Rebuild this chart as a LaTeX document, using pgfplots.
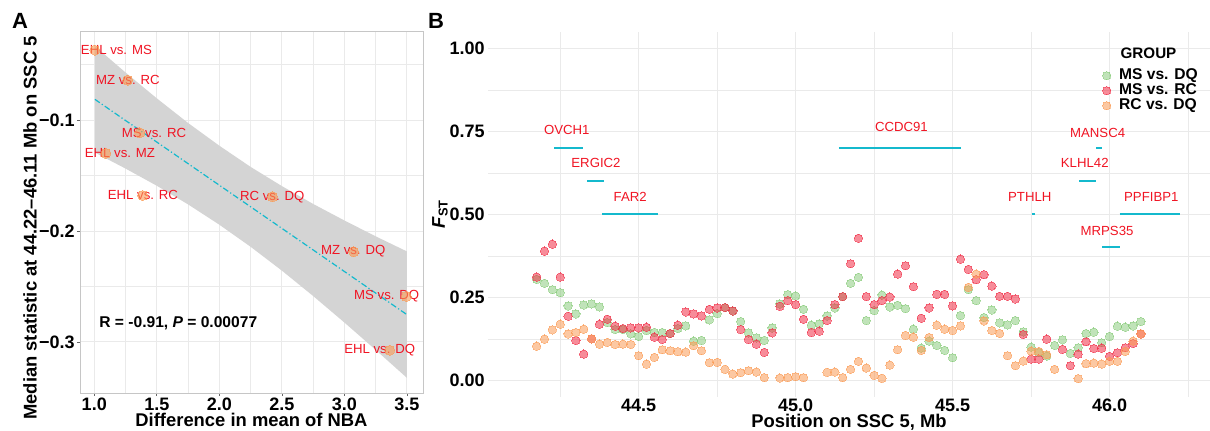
\documentclass[border=0pt]{standalone}
\usepackage{fontspec}
\setmainfont{Liberation Sans}
\usepackage{pgfplots}
\pgfplotsset{compat=1.18}
\definecolor{grn}{RGB}{130,200,115}
\definecolor{rd}{RGB}{240,45,70}
\definecolor{org}{RGB}{250,155,85}
\definecolor{cy}{RGB}{20,185,205}
\definecolor{gridc}{RGB}{234,234,234}
\definecolor{band}{RGB}{212,212,212}
\definecolor{lab}{RGB}{240,20,35}
\begin{document}
\begin{tikzpicture}[x=1pt,y=1pt]
\useasboundingbox (0,0) rectangle (605,215);
% ---------------- Panel A ----------------
\begin{axis}[
 at={(40pt,18.5pt)}, anchor=south west,
 scale only axis, width=171.5pt, height=181pt,
 xmin=0.886, xmax=3.628, ymin=-0.346, ymax=-0.0197,
 xtick={1,1.5,2,2.5,3,3.5}, xticklabels={1.0,1.5,2.0,2.5,3.0,3.5},
 minor xtick={1.25,1.75,2.25,2.75,3.25},
 ytick={-0.3,-0.2,-0.1}, yticklabels={−0.3,−0.2,−0.1},
 minor ytick={-0.25,-0.15,-0.05},
 xtick pos=lower, ytick pos=left,
 grid=both, major grid style={gridc, line width=0.5pt}, minor grid style={gridc, line width=0.3pt},
 axis line style={gray!45, line width=0.5pt},
 tick align=outside, major tick length=1.5pt, minor tick length=0pt,
 tick style={black!60, line width=0.4pt},
 tick label style={font=\fontsize{9}{10}\selectfont\bfseries},
 xticklabel style={inner sep=1pt},
 yticklabel style={inner sep=1pt},
 clip=false,
]
\addplot[fill=band, draw=none] coordinates {
 (1.005,-0.0333) (1.25,-0.0571) (1.5,-0.0804) (1.75,-0.1026) (2.0,-0.1231) (2.25,-0.1422) (2.5,-0.1595) (2.75,-0.1756) (3.0,-0.1905) (3.25,-0.2048) (3.5,-0.2184)
 (3.5,-0.3324) (3.25,-0.3072) (3.0,-0.2825) (2.75,-0.2586) (2.5,-0.2357) (2.25,-0.2142) (2.0,-0.1943) (1.75,-0.1760) (1.5,-0.1592) (1.25,-0.1437) (1.005,-0.1293)} -- cycle;
\addplot[cy, line width=0.6pt, dash pattern=on 3pt off 1.2pt on 0.6pt off 1.2pt] coordinates {(1.005,-0.0813) (3.5,-0.2754)};
\addplot[only marks, mark=*, mark size=2.5pt, mark options={fill=org, draw=org, line width=0pt}, opacity=0.6] coordinates {
 (1.005,-0.037) (1.267,-0.064) (1.365,-0.1115) (1.093,-0.130) (1.387,-0.168) (2.425,-0.169) (3.074,-0.2187) (3.495,-0.259) (3.362,-0.3075)};
\begin{scope}[every node/.style={font=\fontsize{6.6}{7}\selectfont, text=lab, inner sep=0pt}]
\node at (axis cs:1.177,-0.0368) {EHL vs. MS};
\node at (axis cs:1.269,-0.0639) {MZ vs. RC};
\node at (axis cs:1.477,-0.1115) {MS vs. RC};
\node at (axis cs:1.205,-0.1298) {EHL vs. MZ};
\node at (axis cs:1.389,-0.1677) {EHL vs. RC};
\node at (axis cs:2.423,-0.1692) {RC vs. DQ};
\node at (axis cs:3.070,-0.2180) {MZ vs. DQ};
\node at (axis cs:3.338,-0.2586) {MS vs. DQ};
\node at (axis cs:3.282,-0.3076) {EHL vs. DQ};
\end{scope}
\node[anchor=west, inner sep=0pt, font=\fontsize{7.8}{8}\selectfont\bfseries] at (axis cs:1.0375,-0.283) {R = -0.91, \textit{P} = 0.00077};
\end{axis}
% ---------------- Panel B ----------------
\begin{axis}[
 at={(244pt,16.55pt)}, anchor=south west,
 scale only axis, width=361pt, height=182.6pt,
 xmin=44.02, xmax=46.32, ymin=-0.05, ymax=1.05,
 xtick={44.5,45,45.5,46}, xticklabels={44.5,45.0,45.5,46.0},
 minor xtick={44.25,44.75,45.25,45.75,46.25},
 ytick={0,0.25,0.5,0.75,1}, yticklabels={0.00,0.25,0.50,0.75,1.00},
 minor ytick={0.125,0.375,0.625,0.875},
 grid=both, major grid style={gridc, line width=0.5pt}, minor grid style={gridc, line width=0.3pt},
 axis line style={draw=none},
 tick style={draw=none},
 tick label style={font=\fontsize{9}{10}\selectfont\bfseries},
 xticklabel style={inner sep=1pt},
 yticklabel style={inner sep=1.5pt},
 clip=false,
 legend style={at={(axis cs:45.9726,0.9413)}, anchor=north west, draw=none, fill=none,
   font=\fontsize{7.8}{8}\selectfont\bfseries, inner sep=0pt, row sep=0pt, column sep=3.5pt,
   nodes={inner sep=0pt, text height=5.8pt, text depth=1.7pt}},
 legend cell align=left,
 legend image code/.code={\draw[#1] plot coordinates {(0pt,0pt)}; \path (-2.5pt,0pt) (2.5pt,0pt);},
]
% gene segments
\addplot[color=cy, line width=1pt, forget plot] coordinates {(45.976,0.401) (46.032,0.401)};
\addplot[color=cy, line width=0.9pt, forget plot] coordinates {(44.2315,0.70) (44.323,0.70)};
\addplot[color=cy, line width=0.75pt, forget plot] coordinates {(44.336,0.60) (44.39,0.60)};
\addplot[color=cy, line width=0.9pt, forget plot] coordinates {(44.383,0.50) (44.56,0.50)};
\addplot[color=cy, line width=0.9pt, forget plot] coordinates {(45.138,0.70) (45.527,0.70)};
\addplot[color=cy, line width=0.9pt, forget plot] coordinates {(45.958,0.70) (45.977,0.70)};
\addplot[color=cy, line width=0.75pt, forget plot] coordinates {(45.903,0.60) (45.958,0.60)};
\addplot[color=cy, line width=0.9pt, forget plot] coordinates {(45.753,0.50) (45.764,0.50)};
\addplot[color=cy, line width=0.9pt, forget plot] coordinates {(46.032,0.50) (46.225,0.50)};
% MS vs. DQ
\addplot[only marks, mark=*, mark size=2.1pt, mark options={fill=grn, draw=grn, line width=0pt}, opacity=0.5] coordinates {
(44.175,0.304)(44.2,0.292)(44.225,0.273)(44.25,0.264)(44.275,0.224)(44.3,0.200)(44.325,0.227)(44.35,0.230)(44.375,0.221)(44.4,0.174)(44.425,0.153)(44.45,0.153)(44.475,0.140)(44.5,0.132)(44.525,0.150)(44.55,0.144)(44.575,0.144)(44.6,0.141)(44.625,0.156)(44.65,0.164)(44.675,0.118)(44.7,0.120)(44.725,0.182)(44.75,0.201)(44.775,0.219)(44.8,0.209)(44.825,0.177)(44.85,0.143)(44.875,0.128)(44.9,0.120)(44.925,0.158)(44.95,0.230)(44.975,0.258)(45.0,0.254)(45.025,0.214)(45.05,0.166)(45.075,0.170)(45.1,0.194)(45.125,0.218)(45.15,0.252)(45.175,0.292)(45.2,0.310)(45.225,0.180)(45.25,0.210)(45.275,0.257)(45.3,0.221)(45.325,0.226)(45.35,0.216)(45.375,0.154)(45.4,0.097)(45.425,0.118)(45.45,0.105)(45.475,0.090)(45.5,0.068)(45.525,0.195)(45.55,0.273)(45.575,0.240)(45.6,0.189)(45.625,0.212)(45.65,0.173)(45.675,0.167)(45.7,0.180)(45.725,0.146)(45.75,0.100)(45.775,0.083)(45.8,0.073)(45.825,0.105)(45.85,0.122)(45.875,0.081)(45.9,0.098)(45.925,0.141)(45.95,0.145)(45.975,0.113)(46.0,0.132)(46.025,0.163)(46.05,0.160)(46.075,0.164)(46.1,0.177)};
\addlegendentry{MS vs. DQ}
% MS vs. RC
\addplot[only marks, mark=*, mark size=2.1pt, mark options={fill=rd, draw=rd, line width=0pt}, opacity=0.55] coordinates {
(44.175,0.311)(44.2,0.389)(44.225,0.410)(44.25,0.311)(44.275,0.193)(44.3,0.120)(44.325,0.079)(44.35,0.125)(44.375,0.169)(44.4,0.184)(44.425,0.163)(44.45,0.156)(44.475,0.158)(44.5,0.158)(44.525,0.160)(44.55,0.130)(44.575,0.123)(44.6,0.141)(44.625,0.166)(44.65,0.206)(44.675,0.200)(44.7,0.194)(44.725,0.214)(44.75,0.218)(44.775,0.219)(44.8,0.209)(44.825,0.153)(44.85,0.123)(44.875,0.109)(44.9,0.084)(44.925,0.143)(44.95,0.223)(44.975,0.240)(45.0,0.228)(45.025,0.184)(45.05,0.144)(45.075,0.148)(45.1,0.180)(45.125,0.228)(45.15,0.252)(45.175,0.351)(45.2,0.428)(45.225,0.252)(45.25,0.228)(45.275,0.240)(45.3,0.251)(45.325,0.320)(45.35,0.345)(45.375,0.282)(45.4,0.187)(45.425,0.218)(45.45,0.259)(45.475,0.259)(45.5,0.224)(45.525,0.365)(45.55,0.334)(45.575,0.303)(45.6,0.318)(45.625,0.284)(45.65,0.253)(45.675,0.253)(45.7,0.245)(45.725,0.138)(45.75,0.064)(45.775,0.064)(45.8,0.124)(45.85,0.093)(45.875,0.044)(45.9,0.079)(45.925,0.116)(45.95,0.096)(45.975,0.097)(46.0,0.072)(46.025,0.083)(46.05,0.098)(46.075,0.111)(46.1,0.140)};
\addlegendentry{MS vs. RC}
% RC vs. DQ
\addplot[only marks, mark=*, mark size=2.1pt, mark options={fill=org, draw=org, line width=0pt}, opacity=0.55] coordinates {
(44.175,0.103)(44.2,0.124)(44.225,0.152)(44.25,0.169)(44.275,0.140)(44.3,0.144)(44.325,0.154)(44.35,0.125)(44.375,0.109)(44.4,0.114)(44.425,0.108)(44.45,0.109)(44.475,0.108)(44.5,0.074)(44.525,0.049)(44.55,0.069)(44.575,0.092)(44.6,0.089)(44.625,0.086)(44.65,0.085)(44.675,0.104)(44.7,0.089)(44.725,0.053)(44.75,0.054)(44.775,0.033)(44.8,0.019)(44.825,0.023)(44.85,0.029)(44.875,0.025)(44.9,0.008)(44.95,0.007)(44.975,0.008)(45.0,0.011)(45.025,0.008)(45.1,0.024)(45.125,0.025)(45.15,0.008)(45.175,0.033)(45.2,0.057)(45.225,0.037)(45.25,0.015)(45.275,0.006)(45.3,0.046)(45.325,0.092)(45.35,0.135)(45.375,0.130)(45.4,0.090)(45.425,0.129)(45.45,0.166)(45.475,0.154)(45.5,0.150)(45.525,0.164)(45.55,0.280)(45.575,0.320)(45.6,0.179)(45.625,0.150)(45.65,0.141)(45.675,0.074)(45.7,0.044)(45.725,0.058)(45.75,0.088)(45.775,0.087)(45.8,0.077)(45.825,0.033)(45.9,0.005)(45.925,0.050)(45.95,0.052)(45.975,0.049)(46.0,0.057)(46.025,0.057)(46.05,0.087)(46.075,0.118)(46.1,0.140)};
\addlegendentry{RC vs. DQ}
\begin{scope}[every node/.style={font=\fontsize{6.6}{7}\selectfont, text=lab, inner sep=0pt}]
\node at (axis cs:44.271,0.755) {OVCH1};
\node at (axis cs:44.364,0.655) {ERGIC2};
\node at (axis cs:44.473,0.552) {FAR2};
\node at (axis cs:45.337,0.763) {CCDC91};
\node at (axis cs:45.962,0.745) {MANSC4};
\node at (axis cs:45.921,0.655) {KLHL42};
\node at (axis cs:45.746,0.552) {PTHLH};
\node at (axis cs:46.133,0.552) {PPFIBP1};
\node at (axis cs:45.992,0.449) {MRPS35};
\end{scope}
\node[anchor=base west, inner sep=0pt, font=\fontsize{7.6}{8}\selectfont\bfseries] at (axis cs:46.034,0.969) {GROUP};
\end{axis}
% titles
\node[rotate=90, font=\fontsize{9.2}{10}\selectfont\bfseries, inner sep=0pt] at (15,101) {Median statistic at 44.22–46.11 Mb on SSC 5};
\node[anchor=base, font=\fontsize{9.2}{10}\selectfont\bfseries, inner sep=0pt] at (125.75,1.65) {Difference in mean of NBA};
\node[anchor=base, font=\fontsize{9.2}{10}\selectfont\bfseries, inner sep=0pt] at (424.5,1.3) {Position on SSC 5, Mb};
\node[rotate=90, font=\fontsize{9.2}{10}\selectfont\bfseries, inner sep=0pt] at (220,108) {\textit{F}\textsubscript{ST}};
\node[font=\fontsize{11}{12}\selectfont\bfseries, inner sep=0pt] at (10,204.5) {A};
\node[font=\fontsize{11}{12}\selectfont\bfseries, inner sep=0pt] at (218,204.5) {B};
\end{tikzpicture}
\end{document}
